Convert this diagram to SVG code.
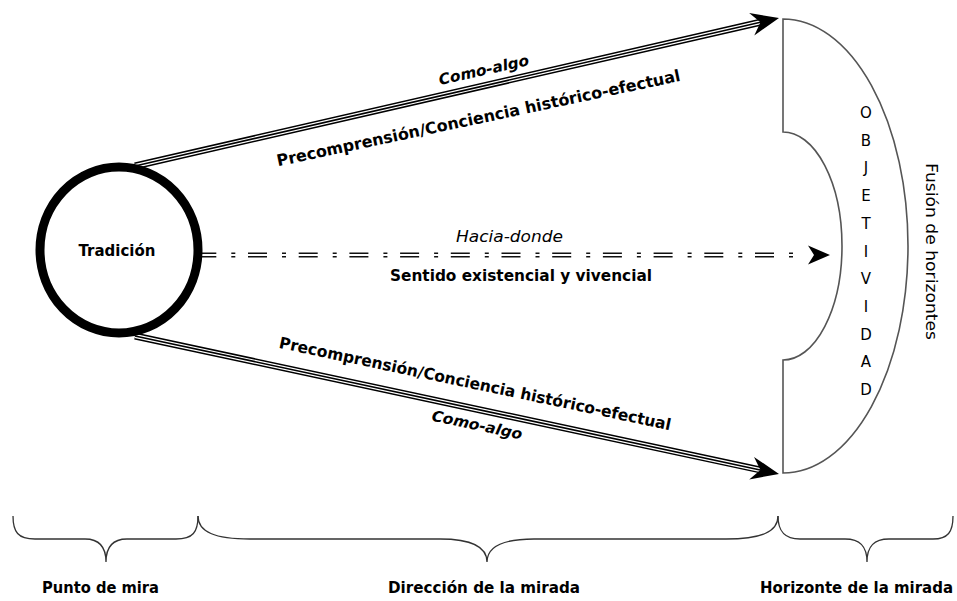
<svg xmlns="http://www.w3.org/2000/svg" width="957" height="601" viewBox="0 0 957 601">
<style>
text{font-family:"DejaVu Sans","Verdana",sans-serif;fill:#000}
.b{font-weight:bold;font-size:15px}
.bi{font-weight:bold;font-style:italic;font-size:15px}
.i{font-style:italic;font-size:15px}
.r{font-size:15px}
.outer{fill:none;stroke:#000;stroke-width:7}
.gap{fill:none;stroke:#fff;stroke-width:4}
.core{fill:none;stroke:#000;stroke-width:1.6}
.dash{fill:none;stroke:#111;stroke-width:1.5;stroke-dasharray:19 15 4 12.7}
.head{fill:#000}
.brace{fill:none;stroke:#333;stroke-width:1.3}
.hz{fill:#fff;stroke:#555;stroke-width:1.6}
</style>
<g id="connectors">
  <g id="arrow-top">
    <path class="outer" d="M135,166 L761.5,22"/>
    <path class="gap" d="M135,166 L761.5,22"/>
    <path class="core" d="M135,166 L761.5,22"/>
    <path class="head" transform="translate(779,18) rotate(-12.9)" d="M0,0 L-28,-11.5 L-19,0 L-28,11.5 Z"/>
  </g>
  <g id="arrow-bottom">
    <path class="outer" d="M135,336 L761.4,470.2"/>
    <path class="gap" d="M135,336 L761.4,470.2"/>
    <path class="core" d="M135,336 L761.4,470.2"/>
    <path class="head" transform="translate(779,474) rotate(12.1)" d="M0,0 L-28,-11.5 L-19,0 L-28,11.5 Z"/>
  </g>
  <g id="arrow-middle">
    <path class="dash" d="M197.3,253.3 L797,253.3"/>
    <path class="dash" d="M197.3,256.7 L797,256.7"/>
    <path class="head" transform="translate(830,255)" d="M0,0 L-22,-9.5 L-16,0 L-22,9.5 Z"/>
  </g>
</g>
<g id="labels">
  <text class="bi" transform="translate(485,75) rotate(-12.5)" text-anchor="middle" textLength="92" lengthAdjust="spacingAndGlyphs">Como-algo</text>
  <text class="b" style="font-size:16px" transform="translate(479.5,123.5) rotate(-12)" text-anchor="middle" textLength="412" lengthAdjust="spacingAndGlyphs">Precomprensión/Conciencia histórico-efectual</text>
  <text class="b" style="font-size:16px" transform="translate(474,389) rotate(11.9)" text-anchor="middle" textLength="400" lengthAdjust="spacingAndGlyphs">Precomprensión/Conciencia histórico-efectual</text>
  <text class="bi" transform="translate(476,430) rotate(12)" text-anchor="middle" textLength="92" lengthAdjust="spacingAndGlyphs">Como-algo</text>
  <text class="i" x="509.5" y="242" text-anchor="middle" textLength="107" lengthAdjust="spacingAndGlyphs">Hacia-donde</text>
  <text class="b" x="521" y="281" text-anchor="middle" textLength="262" lengthAdjust="spacingAndGlyphs">Sentido existencial y vivencial</text>
</g>
<g id="tradicion">
  <ellipse cx="119" cy="250" rx="79" ry="83" fill="#fff" stroke="#000" stroke-width="9"/>
  <text class="b" x="117" y="256" text-anchor="middle">Tradición</text>
</g>
<g id="horizonte">
  <path class="hz" d="M783,19 L783,132 A59,114 0 0 1 783,360 L783,473 A125,227 0 0 0 783,19 Z"/>
  <g class="r" text-anchor="middle">
    <text x="866" y="118">O</text>
    <text x="866" y="145.7">B</text>
    <text x="866" y="173.4">J</text>
    <text x="866" y="201.1">E</text>
    <text x="866" y="228.8">T</text>
    <text x="866" y="256.5">I</text>
    <text x="866" y="284.2">V</text>
    <text x="866" y="311.9">I</text>
    <text x="866" y="339.6">D</text>
    <text x="866" y="367.3">A</text>
    <text x="866" y="395">D</text>
  </g>
</g>
<g id="fusion">
  <text style="font-size:16px" transform="translate(926,251.5) rotate(90)" text-anchor="middle" textLength="177" lengthAdjust="spacingAndGlyphs">Fusión de horizontes</text>
</g>
<g id="brace-punto">
  <path class="brace" d="M13,516 C13,532 18,539 35,539 L85,539 C98,539 106,546 106,562 C106,546 114,539 127,539 L176,539 C193,539 198,532 198,516"/>
  <text class="b" x="100.5" y="593" text-anchor="middle" textLength="117" lengthAdjust="spacingAndGlyphs">Punto de mira</text>
</g>
<g id="brace-direccion">
  <path class="brace" d="M198,516 C198,532 215,539 250,539 L440,539 C470,539 487,546 487,562 C487,546 504,539 534,539 L726,539 C761,539 778,532 778,516"/>
  <text class="b" x="484" y="593" text-anchor="middle" textLength="192" lengthAdjust="spacingAndGlyphs">Dirección de la mirada</text>
</g>
<g id="brace-horizonte">
  <path class="brace" d="M778,516 C778,532 785,539 800,539 L845,539 C860,539 867,546 867,562 C867,546 874,539 889,539 L933,539 C948,539 953,532 953,516"/>
  <text class="b" x="856.5" y="593" text-anchor="middle" textLength="193" lengthAdjust="spacingAndGlyphs">Horizonte de la mirada</text>
</g>
</svg>
